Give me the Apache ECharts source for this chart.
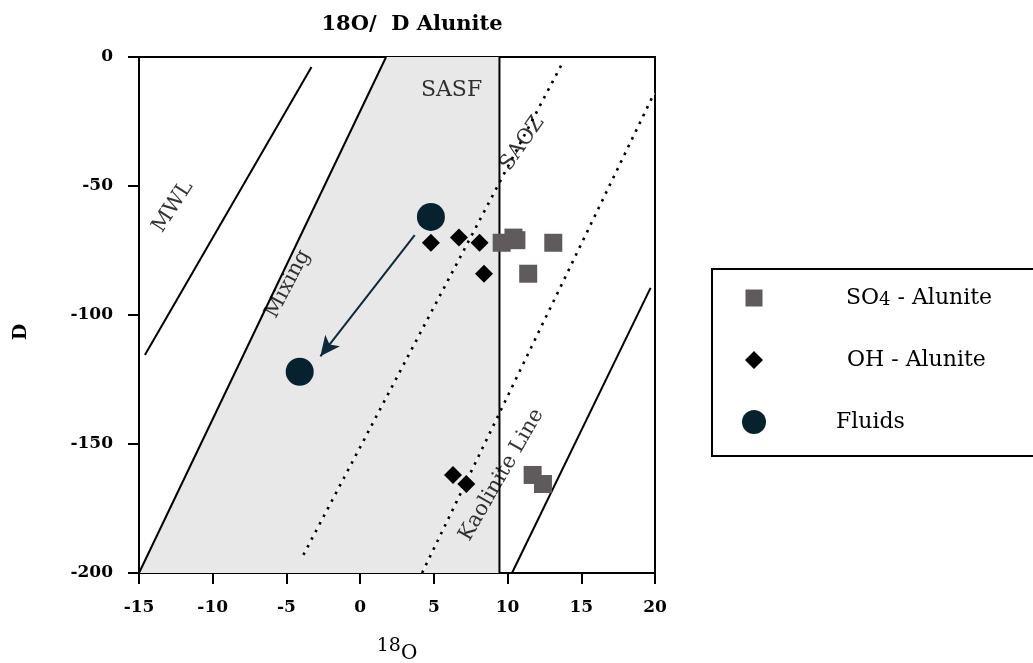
<!DOCTYPE html>
<html>
<head>
<meta charset="utf-8">
<script src="https://cdn.jsdelivr.net/npm/echarts@6/dist/echarts.min.js"></script>
<style>html,body{margin:0;padding:0;background:#fff}#c{width:1033px;height:663px}</style>
</head>
<body>
<div id="c"></div>
<script>
// ---- data ----
const xTicks = [-15, -10, -5, 0, 5, 10, 15, 20];
const yTicks = [0, -50, -100, -150, -200];
const so4Alunite = [[9.6, -72], [10.4, -70], [10.6, -71], [13.1, -72], [11.4, -84], [11.7, -162], [12.4, -165.5]];
const ohAlunite = [[4.8, -72], [6.7, -70], [8.1, -72], [8.4, -84], [6.3, -162], [7.2, -165.5]];
const fluids = [[4.8, -62], [-4.1, -122]];
const mixingArrow = [[3.7, -69], [-2.7, -116]];
const sasfArea = [[-15, -200], [1.76, 0], [9.45, 0]];
const mwlLine = [[-14.6, -115.5], [-3.3, -3.9]];
const mixingLine = [[-15, -200], [1.76, 0]];
const sasfBoundary = [[9.45, 0], [9.45, -200]];
const saozLine1 = [[-3.85, -193], [13.65, -3.1]];
const saozLine2 = [[4.2, -200], [19.95, -14]];
const kaoliniteLine = [[10.3, -200], [19.7, -89.5]];
const textLabels = [
  { name: 'MWL', value: [-12.7, -58], rot: 57, size: 21 },
  { name: 'Mixing', value: [-4.9, -88], rot: 62, size: 21 },
  { name: 'SASF', value: [6.2, -13], rot: 0, size: 22 },
  { name: 'SAOZ', value: [11.0, -33.5], rot: 55, size: 21 },
  { name: 'Kaolinite Line', value: [9.6, -162], rot: 60, size: 21 }
];

const FONT = 'DejaVu Serif';
const chart = echarts.init(document.getElementById('c'), null, { renderer: 'canvas' });

function plainLine(data, color, width, type, z) {
  return {
    type: 'line', data: data, symbol: 'none', silent: true, z: z || 3,
    lineStyle: { color: color, width: width, type: type || 'solid', cap: 'butt' },
    animation: false, legendHoverLink: false
  };
}
// tiny corner points keep the icon bounding box at 24x24 so the visible shape stays small
const BOX = 'M0,0L0.01,0L0,0.01ZM24,24L23.99,24L24,23.99Z';

const option = {
  animation: false,
  backgroundColor: '#fff',
  title: {
    text: '18O/  D Alunite', left: 407, top: 9, textAlign: 'center',
    textStyle: { fontFamily: FONT, fontSize: 21, fontWeight: 'bold', color: '#000' }
  },
  grid: { left: 139, right: 378, top: 57, bottom: 90, show: true, borderColor: '#000', borderWidth: 2,
    containLabel: false, outerBoundsMode: 'none' },
  xAxis: {
    type: 'value', min: -15, max: 20, interval: 5,
    name: '{a|18}{b|O}', nameLocation: 'middle', nameGap: 64,
    nameTextStyle: {
      rich: {
        a: { fontFamily: FONT, fontSize: 19, color: '#000', padding: [0, 0, 8, 0] },
        b: { fontFamily: FONT, fontSize: 20, color: '#000', padding: [6, 0, 0, 0] }
      }
    },
    axisLine: { onZero: false, lineStyle: { color: '#000', width: 2 } },
    axisTick: { inside: false, length: 11, lineStyle: { color: '#000', width: 2 } },
    axisLabel: { fontFamily: FONT, fontSize: 17, fontWeight: 'bold', color: '#000', margin: 26 },
    splitLine: { show: false }
  },
  yAxis: {
    type: 'value', min: -200, max: 0, interval: 50,
    name: 'D', nameLocation: 'middle', nameGap: 108, nameRotate: 90,
    nameTextStyle: { fontFamily: FONT, fontSize: 19, fontWeight: 'bold', color: '#000', padding: [0, 34, 0, 0] },
    axisLine: { onZero: false, lineStyle: { color: '#000', width: 2 } },
    axisTick: { inside: false, length: 11, lineStyle: { color: '#000', width: 2 } },
    axisLabel: { fontFamily: FONT, fontSize: 17, fontWeight: 'bold', color: '#000', margin: 26 },
    splitLine: { show: false }
  },
  legend: {
    orient: 'vertical', left: 737, top: 281, itemWidth: 24, itemHeight: 24, itemGap: 38,
    selectedMode: false,
    textStyle: { fontFamily: FONT, fontSize: 22, color: '#000' },
    data: [
      { name: 'SO4 - Alunite', icon: 'path://' + BOX + 'M3.5,3.5L20.5,3.5L20.5,20.5L3.5,20.5Z', itemStyle: { color: '#5f5a5c' },
        textStyle: { padding: [0, 0, 0, 75] } },
      { name: 'OH - Alunite', icon: 'path://' + BOX + 'M12,3L21,12L12,21L3,12Z', itemStyle: { color: '#000' },
        textStyle: { padding: [0, 0, 0, 76] } },
      { name: 'Fluids', icon: 'circle', itemStyle: { color: '#06222f' },
        textStyle: { padding: [0, 0, 0, 65] } }
    ],
    formatter: function (n) { return n === 'SO4 - Alunite' ? '{s|SO}{t|4}{s| - Alunite}' : n; }
  },
  graphic: [
    { type: 'rect', shape: { x: 712, y: 269, width: 340, height: 187 },
      style: { fill: 'none', stroke: '#000', lineWidth: 2 }, z: 0 }
  ],
  series: [
    {
      type: 'line', data: sasfArea, symbol: 'none', silent: true, z: 1,
      lineStyle: { width: 0 }, areaStyle: { color: '#e8e8e8', opacity: 1, origin: 'start' }
    },
    plainLine(mwlLine, '#000', 2),
    plainLine(mixingLine, '#000', 2),
    plainLine(sasfBoundary, '#000', 2),
    plainLine(kaoliniteLine, '#000', 2),
    plainLine(saozLine1, '#fff', 1.2, 'solid', 2),
    plainLine(saozLine2, '#fff', 1.2, 'solid', 2),
    plainLine(saozLine1, '#000', 2.6, [2.6, 6], 3),
    plainLine(saozLine2, '#000', 2.6, [2.6, 6], 3),
    {
      type: 'line', data: mixingArrow, symbol: 'none', silent: true, z: 4,
      lineStyle: { width: 0 },
      markLine: {
        silent: true, symbol: ['none', 'arrow'], symbolSize: [14, 20],
        lineStyle: { color: '#0d2a3a', width: 2, type: 'solid' }, label: { show: false },
        data: [[{ coord: mixingArrow[0] }, { coord: mixingArrow[1] }]]
      }
    },
    {
      name: 'SO4 - Alunite', type: 'scatter', data: so4Alunite, symbol: 'rect', symbolSize: 18, z: 5,
      itemStyle: { color: '#5f5a5c', opacity: 1 }
    },
    {
      name: 'OH - Alunite', type: 'scatter', data: ohAlunite, symbol: 'diamond', symbolSize: 18, z: 6,
      itemStyle: { color: '#000', opacity: 1 }
    },
    {
      name: 'Fluids', type: 'scatter', data: fluids, symbol: 'circle', symbolSize: 28, z: 6,
      itemStyle: { color: '#06222f', opacity: 1 }
    },
    {
      type: 'scatter', symbolSize: 0, silent: true, z: 7,
      data: textLabels.map(t => ({
        name: t.name, value: t.value,
        label: { show: true, position: 'inside', formatter: t.name, rotate: t.rot,
          fontFamily: FONT, fontSize: t.size, color: '#000' }
      }))
    }
  ]
};
option.legend.textStyle.rich = {
  s: { fontFamily: FONT, fontSize: 22, color: '#000' },
  t: { fontFamily: FONT, fontSize: 18, color: '#000', padding: [5, 0, 0, 0] }
};
chart.setOption(option);
</script>
</body>
</html>
